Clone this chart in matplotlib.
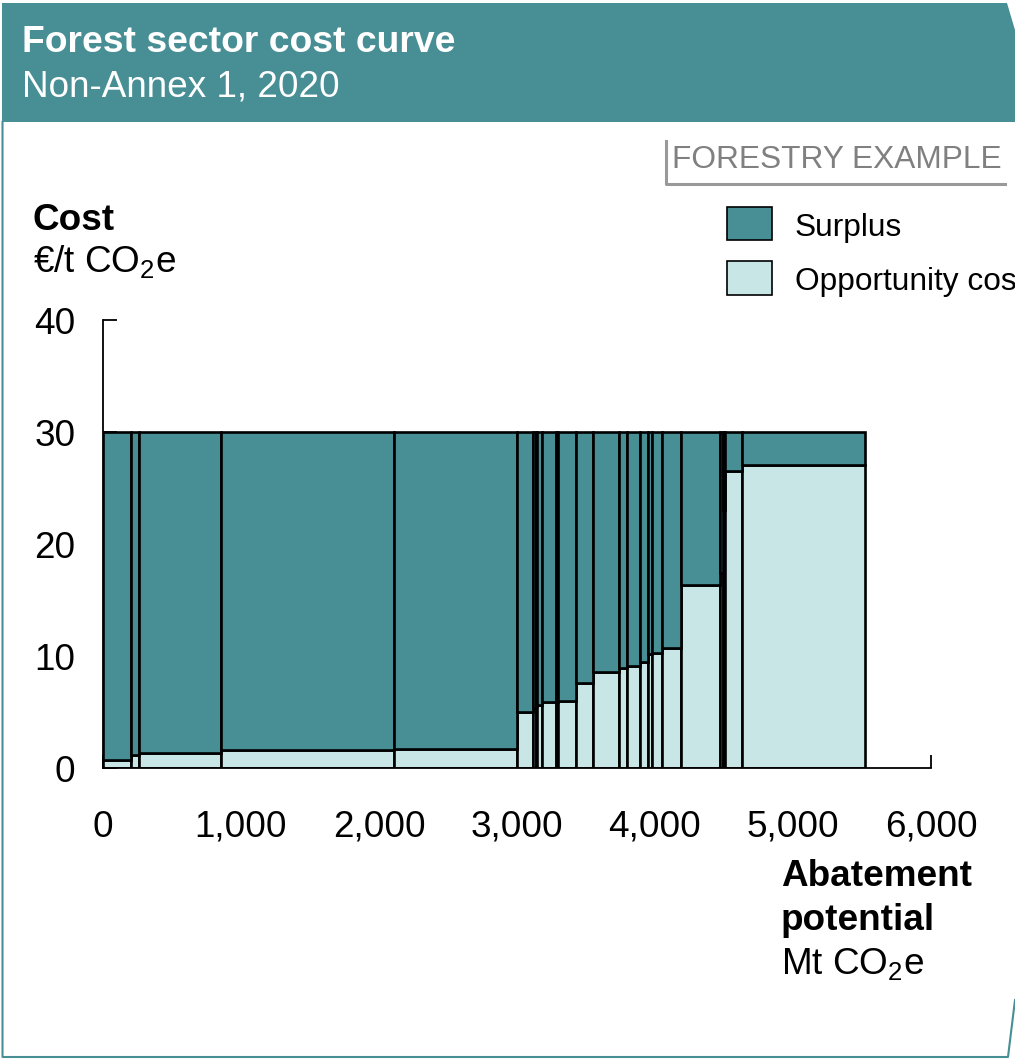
import matplotlib
matplotlib.use("Agg")
import matplotlib.pyplot as plt
from matplotlib.patches import Rectangle, Polygon
from matplotlib.lines import Line2D

plt.rcParams["font.family"] = ["Liberation Sans", "DejaVu Sans"]
plt.rcParams["mathtext.fontset"] = "custom"
plt.rcParams["mathtext.rm"] = "Liberation Sans"
plt.rcParams["mathtext.default"] = "regular"

# Abatement measures: width along the curve (Mt CO2e) and opportunity cost (EUR/t CO2e)
widths = [203, 58, 594, 1254, 893, 116, 18, 11, 32, 104, 16, 129, 121,
          192, 54, 98, 54, 29, 72, 143, 280, 20, 16, 123, 892]
opportunity_cost = [0.7, 1.15, 1.3, 1.6, 1.7, 5.0, 5.4, 5.5, 5.6, 5.85, 5.9,
                    6.0, 7.55, 8.55, 8.95, 9.1, 9.45, 10.15, 10.3, 10.75,
                    16.3, 17.4, 23.0, 26.5, 27.05]
carbon_price = 30.0

x_ticks = [0, 1000, 2000, 3000, 4000, 5000, 6000]
x_tick_labels = ["0", "1,000", "2,000", "3,000", "4,000", "5,000", "6,000"]
y_ticks = [0, 10, 20, 30, 40]
y_tick_labels = ["0", "10", "20", "30", "40"]

TEAL = "#478F95"
LIGHT = "#C9E6E6"
GREY = "#808080"

W, H = 1015, 1063
fig = plt.figure(figsize=(W / 100, H / 100), dpi=100)


def fx(x):
    return x / W


def fy(y):
    return 1 - y / H


# Card: header band and outline
fig.patches.append(Polygon([(fx(2), fy(3)), (fx(1007), fy(3)), (fx(1015), fy(30)),
                            (fx(1015), fy(122)), (fx(2), fy(122))],
                           closed=True, transform=fig.transFigure,
                           facecolor=TEAL, edgecolor="none", zorder=0))
fig.lines.append(Line2D([fx(2.5), fx(2.5), fx(1008), fx(1015)],
                        [fy(122), fy(1057), fy(1057), fy(1000)],
                        transform=fig.transFigure, color=TEAL, lw=1.5))

fig.text(fx(22), fy(43), "Forest sector cost curve", color="white",
         fontsize=26.8, fontweight="bold", va="center", ha="left")
fig.text(fx(22), fy(87), "Non-Annex 1, 2020", color="white",
         fontsize=26.6, va="center", ha="left")

# Example tag
fig.text(fx(672), fy(160), "FORESTRY EXAMPLE", color=GREY, fontsize=22.8,
         va="center", ha="left")
fig.lines.append(Line2D([fx(666), fx(666), fx(1005)], [fy(141), fy(184), fy(184)],
                        transform=fig.transFigure, color="#999999", lw=2.2))

# Legend
fig.patches.append(Rectangle((fx(727), fy(240)), fx(45), 33 / H,
                             transform=fig.transFigure, facecolor=TEAL,
                             edgecolor="black", lw=1.2))
fig.patches.append(Rectangle((fx(727), fy(295)), fx(45), 34 / H,
                             transform=fig.transFigure, facecolor=LIGHT,
                             edgecolor="black", lw=1.2))
fig.text(fx(795), fy(228), "Surplus", fontsize=22.8, va="center", ha="left")
fig.text(fx(795), fy(282), "Opportunity cost", fontsize=22.8, va="center", ha="left")

# Axis titles
fig.text(fx(33), fy(220), "Cost", fontsize=26.6, fontweight="bold",
         va="center", ha="left")
fig.text(fx(33), fy(262), "€/t CO$_2$e", fontsize=26.6, va="center", ha="left")
fig.text(fx(781), fy(876), "Abatement", fontsize=26.6, fontweight="bold",
         va="center", ha="left")
fig.text(fx(781), fy(920), "potential", fontsize=26.6, fontweight="bold",
         va="center", ha="left")
fig.text(fx(781), fy(964), "Mt CO$_2$e", fontsize=26.6, va="center", ha="left")

# Cost curve
ax = fig.add_axes([fx(103), fy(768), (931 - 103) / W, (768 - 320) / H])
ax.set_facecolor("none")
lefts = []
pos = 0
for w in widths:
    lefts.append(pos)
    pos += w
surplus = [carbon_price - c for c in opportunity_cost]
ax.bar(lefts, opportunity_cost, width=widths, align="edge", color=LIGHT,
       edgecolor="black", lw=1.9, zorder=2)
ax.bar(lefts, surplus, width=widths, bottom=opportunity_cost, align="edge",
       color=TEAL, edgecolor="black", lw=1.9, zorder=2)

ax.set_xlim(0, 6000)
ax.set_ylim(0, 40)
for s in ("top", "right"):
    ax.spines[s].set_visible(False)
for s in ("left", "bottom"):
    ax.spines[s].set_linewidth(1.3)
    ax.spines[s].set_zorder(3)
ax.set_xticks(x_ticks)
ax.set_xticklabels(x_tick_labels)
ax.set_yticks(y_ticks)
ax.set_yticklabels(y_tick_labels)
ax.tick_params(axis="x", direction="in", length=9.5, width=1.3, pad=30,
               labelsize=26.6)
ax.tick_params(axis="y", direction="in", length=10, width=1.3, pad=20,
               labelsize=26.6)

fig.savefig("out.png", dpi=100)
